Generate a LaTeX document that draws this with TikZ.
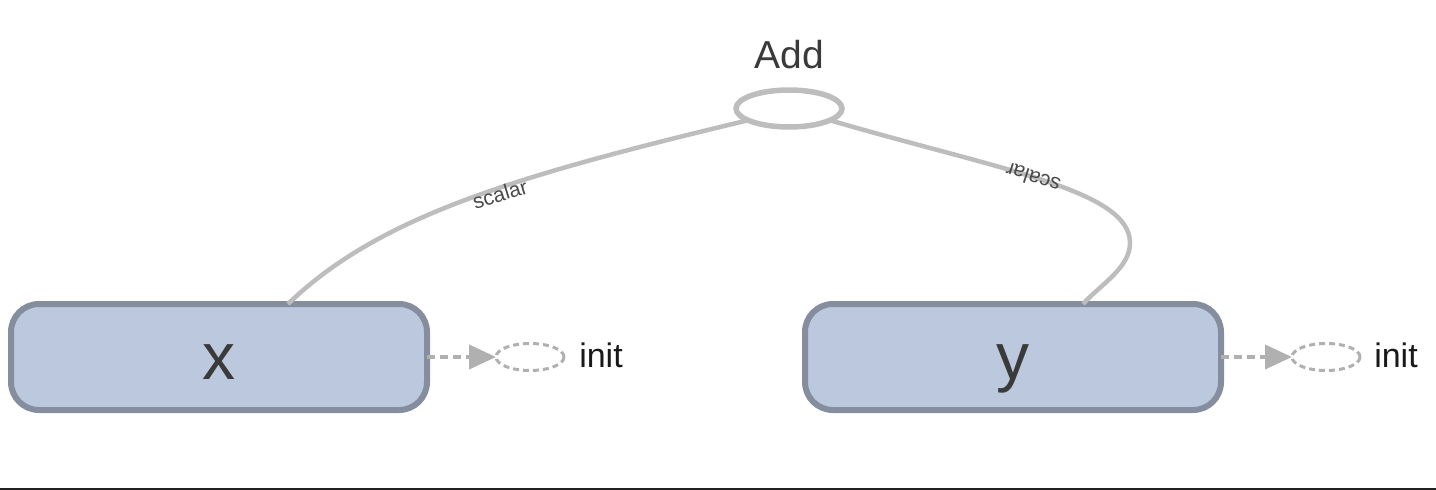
\documentclass[tikz,border=0pt]{standalone}
\usepackage{fontspec}
\setmainfont{Liberation Sans}
\usetikzlibrary{shapes.geometric,arrows.meta}
\definecolor{boxfill}{HTML}{BCC8DE}
\definecolor{boxline}{HTML}{858E9E}
\definecolor{edgegray}{HTML}{BDBDBD}
\definecolor{dashgray}{HTML}{B0B0B0}
\definecolor{labgray}{HTML}{4A4A4A}
\definecolor{txtdark}{HTML}{3A3A3A}
\tikzset{
  opbox/.style={draw=boxline, fill=boxfill, line width=6pt, rounded corners=28pt,
    minimum width=416pt, minimum height=106pt, inner sep=0pt, outer sep=0pt,
    font=\fontsize{66}{66}\selectfont, text=txtdark, text height=44pt, text depth=0pt},
  addell/.style={ellipse, draw=edgegray, line width=5.5pt, minimum width=106pt,
    minimum height=37pt, inner sep=0pt, outer sep=0pt},
  initell/.style={ellipse, draw=dashgray, line width=3pt, dash pattern=on 6pt off 4pt,
    minimum width=68pt, minimum height=27pt, inner sep=0pt, outer sep=0pt},
  edgeline/.style={draw=edgegray, line width=4.5pt},
  dasharrow/.style={draw=dashgray, line width=4pt, dash pattern=on 8pt off 5pt,
    -{Triangle[length=27pt,width=24pt,fill=dashgray]}},
  edgelab/.style={font=\fontsize{21}{21}\selectfont, text=labgray, inner sep=1pt},
  initlab/.style={font=\fontsize{34}{34}\selectfont, text=black!90},
  addlab/.style={font=\fontsize{39}{39}\selectfont, text=txtdark}
}
\begin{document}
\begin{tikzpicture}[x=1pt,y=-1pt]
\useasboundingbox (0,0) rectangle (1436,490);
% nodes
\node[opbox] (xbox) at (219,357) {x};
\node[opbox] (ybox) at (1013,357) {y};
\node[addell] (add) at (789,108.5) {};
\node[addlab] (addtxt) at (789,55) {Add};
\node[initell] (initx) at (530,357) {};
\node[initell] (inity) at (1326,357) {};
\node[initlab] (initxl) at (601,355) {init};
\node[initlab] (inityl) at (1396,355) {init};
% edges
\draw[edgeline] ([xshift=69pt]xbox.north) .. controls (380,215) and (520,175) .. (add.196);
\draw[edgeline] ([xshift=70pt]ybox.north) .. controls (1100,285) and (1130,268) .. (1130,243)
  .. controls (1130,190) and (1000,170) .. (add.344);
\node[edgelab, rotate=17] (lab1) at (500,194) {scalar};
\node[edgelab, rotate=162] (lab2) at (1033,178) {scalar};
% init arrows
\draw[dasharrow] (xbox.east) -- (initx.west);
\draw[dasharrow] (ybox.east) -- (inity.west);
% bottom rule
\coordinate (bl) at (0,489);
\coordinate (br) at (1436,489);
\draw[line width=3pt, color=black!87] (bl) -- (br);
\end{tikzpicture}
\end{document}
